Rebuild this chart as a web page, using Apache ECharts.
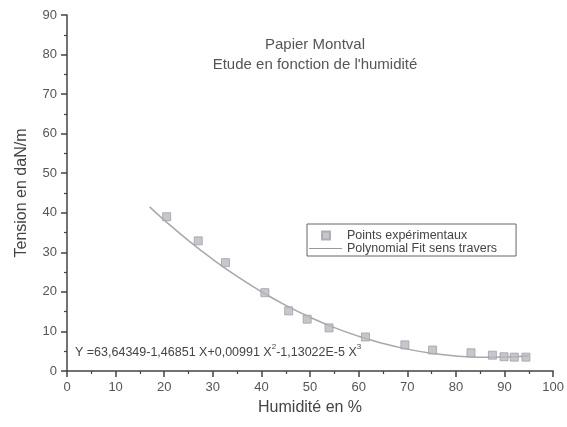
<!DOCTYPE html>
<html>
<head>
<meta charset="utf-8">
<script src="https://cdn.jsdelivr.net/npm/echarts@6/dist/echarts.min.js"></script>
<style>html,body{margin:0;padding:0;background:#fff}#c{width:567px;height:427px}</style>
</head>
<body>
<div id="c"></div>
<script>
// Experimental points (humidity %, tension daN/m)
var pointsX = [20.5, 27.0, 32.6, 40.7, 45.6, 49.4, 53.9, 61.4, 69.5, 75.2, 83.1, 87.5, 89.9, 92.0, 94.4];
var pointsY = [39.0, 32.9, 27.4, 19.8, 15.2, 13.1, 10.9, 8.6, 6.6, 5.3, 4.6, 4.0, 3.6, 3.5, 3.5];
// Fitted curve
var fitX = [17, 20, 25, 30, 35, 40, 45, 50, 55, 60, 65, 70, 75, 80, 85, 90, 95];
var fitY = [41.5, 38.15, 32.95, 28.2, 23.9, 20.04, 16.6, 13.58, 10.97, 8.77, 6.96, 5.53, 4.48, 3.8, 3.48, 3.51, 3.88];
var xTicks = [0, 10, 20, 30, 40, 50, 60, 70, 80, 90, 100];
var yTicks = [0, 10, 20, 30, 40, 50, 60, 70, 80, 90];
var seriesNames = ['Points expérimentaux', 'Polynomial Fit sens travers'];
var titleLines = ['Papier Montval', "Etude en fonction de l'humidité"];
var xName = 'Humidité en %';
var yName = 'Tension en daN/m';

var FONT = '"Liberation Sans", Arial, sans-serif';
var chart = echarts.init(document.getElementById('c'), null, {renderer: 'canvas'});
var axisCol = '#444';
function pairs(a, b) { return a.map(function (v, i) { return [v, b[i]]; }); }

chart.setOption({
  backgroundColor: '#fff',
  animation: false,
  textStyle: {fontFamily: FONT},
  title: {
    text: titleLines.join('\n'),
    left: 310, top: 30, textAlign: 'center',
    textStyle: {fontFamily: FONT, fontSize: 15, fontWeight: 'normal', color: '#555', lineHeight: 20}
  },
  legend: {
    orient: 'vertical', left: 307, top: 224,
    padding: [5, 19, 1, 1], itemGap: 0,
    itemWidth: 33, itemHeight: 8,
    borderColor: '#666', borderWidth: 1,
    textStyle: {fontFamily: FONT, fontSize: 12.5, color: '#444', lineHeight: 12},
    data: [
      {name: seriesNames[0], icon: 'path://M0,0 M33,8 M13,0h8v8h-8z'},
      {name: seriesNames[1], icon: 'path://M0,3.6h33v1h-33z', itemStyle: {color: '#9a9a9a'}}
    ]
  },
  grid: {left: 67, right: 13, top: 15, bottom: 56},
  xAxis: {
    type: 'value', min: xTicks[0], max: xTicks[xTicks.length - 1], interval: 10,
    name: xName, nameLocation: 'middle', nameGap: 29,
    nameTextStyle: {fontFamily: FONT, fontSize: 16, color: '#444'},
    axisLine: {show: true, onZero: false, lineStyle: {color: axisCol, width: 1.5}},
    axisTick: {show: true, inside: false, length: 6, lineStyle: {color: axisCol, width: 1.5}},
    minorTick: {show: true, splitNumber: 2, length: 3, lineStyle: {color: axisCol, width: 1.2}},
    axisLabel: {fontFamily: FONT, fontSize: 13, color: '#555', margin: 10},
    splitLine: {show: false}
  },
  yAxis: {
    type: 'value', min: yTicks[0], max: yTicks[yTicks.length - 1], interval: 10,
    name: yName, nameLocation: 'middle', nameGap: 37, nameRotate: 90,
    nameTextStyle: {fontFamily: FONT, fontSize: 16, color: '#444'},
    axisLine: {show: true, onZero: false, lineStyle: {color: axisCol, width: 1.5}},
    axisTick: {show: true, inside: false, length: 6, lineStyle: {color: axisCol, width: 1.5}},
    minorTick: {show: true, splitNumber: 2, length: 3, lineStyle: {color: axisCol, width: 1.2}},
    axisLabel: {fontFamily: FONT, fontSize: 13, color: '#555', margin: 10},
    splitLine: {show: false}
  },
  graphic: [{
    type: 'text', left: 75, top: 343,
    style: {
      text: 'Y =63,64349-1,46851 X+0,00991 X{s|2}-1,13022E-5 X{s|3}',
      rich: {s: {fontSize: 8, fontFamily: FONT, fill: '#444', verticalAlign: 'top', lineHeight: 8}},
      font: '12.5px ' + FONT, fill: '#444', lineHeight: 20
    }
  }],
  series: [
    {
      name: seriesNames[0], type: 'scatter', symbol: 'rect', symbolSize: 8,
      itemStyle: {color: '#b8b8c0', borderColor: '#a0a0a8', borderWidth: 1},
      data: pairs(pointsX, pointsY), z: 3
    },
    {
      name: seriesNames[1], type: 'line', symbol: 'none', smooth: true,
      lineStyle: {color: '#a8a8a8', width: 1.5},
      itemStyle: {color: '#a8a8a8'},
      data: pairs(fitX, fitY), z: 2
    }
  ]
});
</script>
</body>
</html>
